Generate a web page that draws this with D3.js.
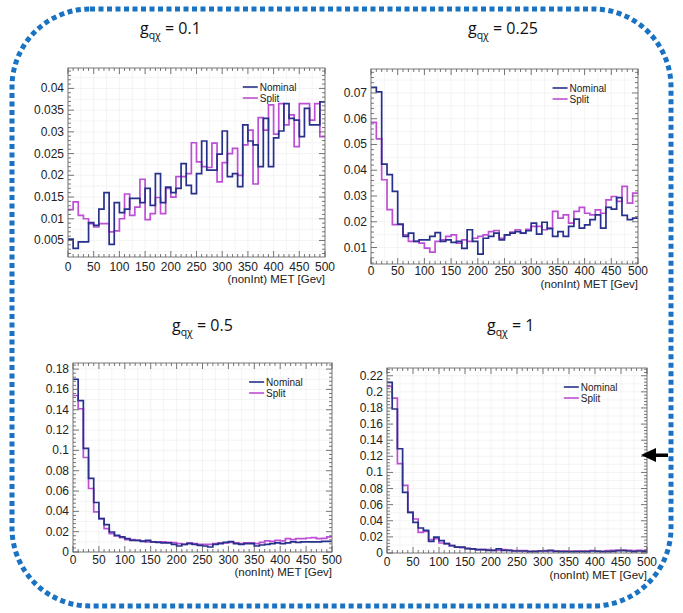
<!DOCTYPE html>
<html>
<head>
<meta charset="utf-8">
<script src="https://cdn.jsdelivr.net/npm/d3@7/dist/d3.min.js"></script>
<style>
  html, body { margin: 0; padding: 0; background: #fff; }
  svg { display: block; }
</style>
</head>
<body>
<svg id="chart" width="683" height="613"></svg>
<script>
// MET distributions (50 bins of 10 GeV, 0–500) for four coupling values
const couplings = ["0.1", "0.25", "0.5", "1"];
const seriesNames = ["Nominal", "Split"];
const xTicks = [0, 50, 100, 150, 200, 250, 300, 350, 400, 450, 500];
const xTitle = "(nonInt) MET [Gev]";

const nominal01 = [0.0053,0.0032,0.0047,0.0047,0.0091,0.0085,0.0122,0.0160,0.0041,0.0137,
  0.0114,0.0122,0.0147,0.0147,0.0137,0.0170,0.0131,0.0204,0.0137,0.0173,
  0.0160,0.0170,0.0227,0.0177,0.0158,0.0204,0.0279,0.0212,0.0212,0.0249,
  0.0302,0.0197,0.0204,0.0174,0.0316,0.0279,0.0270,0.0220,0.0331,0.0220,
  0.0286,0.0302,0.0365,0.0331,0.0327,0.0289,0.0354,0.0316,0.0316,0.0369];
const split01 = [0.0121,0.0139,0.0108,0.0100,0.0089,0.0081,0.0089,0.0089,0.0070,0.0072,
  0.0100,0.0157,0.0108,0.0127,0.0191,0.0098,0.0112,0.0149,0.0112,0.0170,
  0.0150,0.0197,0.0197,0.0204,0.0275,0.0231,0.0220,0.0218,0.0274,0.0185,
  0.0229,0.0250,0.0262,0.0200,0.0270,0.0304,0.0180,0.0333,0.0304,0.0362,
  0.0295,0.0365,0.0316,0.0339,0.0266,0.0365,0.0365,0.0327,0.0365,0.0289];

const nominal025 = [0.0722,0.0704,0.0424,0.0383,0.0318,0.0191,0.0143,0.0156,0.0124,0.0130,
  0.0130,0.0143,0.0158,0.0124,0.0130,0.0120,0.0124,0.0097,0.0169,0.0124,
  0.0074,0.0136,0.0143,0.0156,0.0130,0.0149,0.0156,0.0162,0.0156,0.0165,
  0.0195,0.0152,0.0198,0.0173,0.0143,0.0162,0.0143,0.0182,0.0210,0.0175,
  0.0188,0.0208,0.0227,0.0175,0.0256,0.0249,0.0294,0.0225,0.0208,0.0214];
const split025 = [0.0586,0.0522,0.0363,0.0247,0.0189,0.0189,0.0149,0.0124,0.0124,0.0117,
  0.0098,0.0082,0.0124,0.0130,0.0143,0.0149,0.0117,0.0130,0.0124,0.0136,
  0.0143,0.0149,0.0162,0.0166,0.0136,0.0149,0.0160,0.0169,0.0156,0.0171,
  0.0182,0.0182,0.0169,0.0175,0.0240,0.0214,0.0227,0.0195,0.0240,0.0256,
  0.0233,0.0227,0.0246,0.0233,0.0285,0.0298,0.0279,0.0337,0.0272,0.0311];

const nominal05 = [0.170,0.149,0.102,0.0724,0.0487,0.0329,0.0270,0.0197,0.0164,0.0148,
  0.0132,0.0115,0.0115,0.0105,0.0115,0.0099,0.0095,0.0089,0.0089,0.0076,
  0.0059,0.0076,0.0082,0.0076,0.0066,0.0059,0.0049,0.0076,0.0082,0.0095,
  0.0102,0.0082,0.0076,0.0082,0.0082,0.0059,0.0069,0.0076,0.0082,0.0089,
  0.0082,0.0089,0.0099,0.0095,0.0099,0.0099,0.0099,0.0099,0.0105,0.0105];
const split05 = [0.154,0.141,0.093,0.0625,0.0395,0.0329,0.0230,0.0181,0.0158,0.0141,
  0.0122,0.0122,0.0115,0.0109,0.0099,0.0099,0.0099,0.0099,0.0095,0.0092,
  0.0082,0.0076,0.0089,0.0082,0.0076,0.0076,0.0076,0.0082,0.0089,0.0089,
  0.0095,0.0089,0.0082,0.0089,0.0089,0.0082,0.0095,0.0109,0.0105,0.0115,
  0.0109,0.0132,0.0122,0.0132,0.0132,0.0138,0.0141,0.0132,0.0135,0.0148];

const nominal1 = [0.2117,0.1787,0.1294,0.0753,0.0505,0.0380,0.0310,0.0281,0.0145,0.0198,
  0.0153,0.0116,0.0091,0.0074,0.0074,0.0054,0.0050,0.0041,0.0041,0.0033,
  0.0033,0.0050,0.0033,0.0033,0.0025,0.0025,0.0025,0.0017,0.0017,0.0025,
  0.0025,0.0033,0.0021,0.0017,0.0017,0.0017,0.0017,0.0017,0.0017,0.0025,
  0.0021,0.0017,0.0017,0.0021,0.0029,0.0029,0.0025,0.0017,0.0025,0.0021];
const split1 = [0.2068,0.1923,0.1108,0.0840,0.0505,0.0422,0.0256,0.0269,0.0165,0.0178,
  0.0124,0.0116,0.0091,0.0074,0.0066,0.0058,0.0050,0.0041,0.0041,0.0041,
  0.0033,0.0033,0.0041,0.0033,0.0029,0.0029,0.0029,0.0021,0.0025,0.0025,
  0.0029,0.0025,0.0025,0.0025,0.0025,0.0021,0.0025,0.0025,0.0025,0.0029,
  0.0025,0.0021,0.0029,0.0033,0.0033,0.0037,0.0033,0.0029,0.0033,0.0029];

const yTicks01 = [0.005, 0.01, 0.015, 0.02, 0.025, 0.03, 0.035, 0.04];
const yTicks025 = [0.01, 0.02, 0.03, 0.04, 0.05, 0.06, 0.07];
const yTicks05 = [0, 0.02, 0.04, 0.06, 0.08, 0.1, 0.12, 0.14, 0.16, 0.18];
const yTicks1 = [0, 0.02, 0.04, 0.06, 0.08, 0.1, 0.12, 0.14, 0.16, 0.18, 0.2, 0.22];

const colors = { Nominal: "#27308a", Split: "#bd4fd4" };

// Pad layout: frame box, y range, tick spacing, title anchor
const panels = [
  { g: couplings[0], nominal: nominal01, split: split01, yTicks: yTicks01,
    frame: { x0: 68, x1: 325, y0: 68, y1: 257 }, yDomain: [0.0012, 0.0447], yMinor: 0.001,
    title: { x: 140, y: 34 }, xLabY: 271, xTitleY: 283 },
  { g: couplings[1], nominal: nominal025, split: split025, yTicks: yTicks025,
    frame: { x0: 371, x1: 638, y0: 69, y1: 264 }, yDomain: [0.0036, 0.0793], yMinor: 0.002,
    title: { x: 468, y: 34 }, xLabY: 275, xTitleY: 288 },
  { g: couplings[2], nominal: nominal05, split: split05, yTicks: yTicks05,
    frame: { x0: 73, x1: 332, y0: 363, y1: 552 }, yDomain: [0, 0.186], yMinor: 0.004,
    title: { x: 172, y: 331 }, xLabY: 564, xTitleY: 576 },
  { g: couplings[3], nominal: nominal1, split: split1, yTicks: yTicks1,
    frame: { x0: 387, x1: 647, y0: 368, y1: 553 }, yDomain: [0, 0.2296], yMinor: 0.004,
    title: { x: 487, y: 331 }, xLabY: 566, xTitleY: 579 }
];

const svg = d3.select("#chart");
const fmt = d3.format(".3~f");
const labelFont = "'Liberation Sans', Arial, sans-serif";

panels.forEach((p, pi) => {
  const f = p.frame;
  const x = d3.scaleLinear().domain([0, 500]).range([f.x0, f.x1]);
  const y = d3.scaleLinear().domain(p.yDomain).range([f.y1, f.y0]);
  const g = svg.append("g");

  // faint background grid of the pad
  const grid = g.append("g").attr("stroke", "#efefef").attr("stroke-width", 0.7);
  d3.range(0, 501, 25).forEach(v => {
    grid.append("line").attr("x1", x(v)).attr("x2", x(v)).attr("y1", f.y0).attr("y2", f.y1);
  });
  const yStep = p.yMinor * 2.5;
  d3.range(Math.ceil(p.yDomain[0] / yStep) * yStep, p.yDomain[1], yStep).forEach(v => {
    grid.append("line").attr("x1", f.x0).attr("x2", f.x1).attr("y1", y(v)).attr("y2", y(v));
  });

  // histograms drawn as steps
  const clipId = "clip" + pi;
  svg.append("clipPath").attr("id", clipId)
    .append("rect").attr("x", f.x0).attr("y", f.y0)
    .attr("width", f.x1 - f.x0).attr("height", f.y1 - f.y0);

  const step = d3.line().x(d => x(d[0])).y(d => y(d[1])).curve(d3.curveStepAfter);
  [["Split", p.split], ["Nominal", p.nominal]].forEach(([name, vals]) => {
    const pts = vals.map((v, i) => [i * 10, v]);
    pts.push([500, vals[vals.length - 1]]);
    g.append("path").attr("d", step(pts))
      .attr("clip-path", `url(#${clipId})`)
      .attr("fill", "none").attr("stroke", colors[name]).attr("stroke-width", 1.7);
  });

  // frame
  g.append("rect").attr("x", f.x0).attr("y", f.y0)
    .attr("width", f.x1 - f.x0).attr("height", f.y1 - f.y0)
    .attr("fill", "none").attr("stroke", "#7a7a7a").attr("stroke-width", 1);

  // ticks on all four sides
  const tk = g.append("g").attr("stroke", "#555").attr("stroke-width", 0.8);
  d3.range(0, 501, 10).forEach(v => {
    const len = v % 50 === 0 ? 6 : 3;
    tk.append("line").attr("x1", x(v)).attr("x2", x(v)).attr("y1", f.y1).attr("y2", f.y1 - len);
    tk.append("line").attr("x1", x(v)).attr("x2", x(v)).attr("y1", f.y0).attr("y2", f.y0 + len);
  });
  const major = p.yTicks[1] - p.yTicks[0];
  const start = Math.ceil(p.yDomain[0] / p.yMinor - 1e-6);
  for (let k = start; k * p.yMinor <= p.yDomain[1] + 1e-9; k++) {
    const v = k * p.yMinor;
    const isMajor = Math.abs(v / major - Math.round(v / major)) < 1e-6;
    const len = isMajor ? 6 : 3;
    tk.append("line").attr("x1", f.x0).attr("x2", f.x0 + len).attr("y1", y(v)).attr("y2", y(v));
    tk.append("line").attr("x1", f.x1).attr("x2", f.x1 - len).attr("y1", y(v)).attr("y2", y(v));
  }

  // tick labels
  const lab = g.append("g").attr("font-family", labelFont).attr("font-size", 12).attr("fill", "#222");
  xTicks.forEach(v => {
    lab.append("text").attr("x", x(v)).attr("y", p.xLabY).attr("text-anchor", "middle").text(v);
  });
  p.yTicks.forEach(v => {
    lab.append("text").attr("x", f.x0 - 4).attr("y", y(v) + 4).attr("text-anchor", "end").text(fmt(v));
  });
  lab.append("text").attr("x", f.x1).attr("y", p.xTitleY).attr("text-anchor", "end")
    .attr("font-size", 11.5).text(xTitle);

  // legend
  const lx = f.x0 + (f.x1 - f.x0) * 0.68;
  const ly = f.y0 + 19;
  seriesNames.forEach((name, i) => {
    const yy = ly + i * 11;
    g.append("line").attr("x1", lx).attr("x2", lx + 15).attr("y1", yy).attr("y2", yy)
      .attr("stroke", colors[name]).attr("stroke-width", 1.6);
    g.append("text").attr("x", lx + 17).attr("y", yy + 3.5)
      .attr("font-family", labelFont).attr("font-size", 10).attr("fill", "#222").text(name);
  });

  // pad title: g_{qχ} = value
  const t = svg.append("text").attr("x", p.title.x).attr("y", p.title.y)
    .attr("font-family", "'Open Sans', 'Noto Sans', sans-serif").attr("font-size", 16).attr("fill", "#111");
  t.append("tspan").text("g");
  t.append("tspan").attr("dy", 5).attr("font-size", 10.5).text("qχ");
  t.append("tspan").attr("dy", -5).text(" = " + p.g);
});

// dotted rounded border around all pads
svg.append("rect").attr("x", 12).attr("y", 9).attr("width", 659).attr("height", 597)
  .attr("rx", 78).attr("ry", 78)
  .attr("fill", "none").attr("stroke", "#1a72c2").attr("stroke-width", 5)
  .attr("stroke-dasharray", "5 3.5");

// pointer arrow on the right edge
const arrow = svg.append("g").attr("fill", "#000");
arrow.append("path").attr("d", d3.line()([[641, 455], [656, 448], [656, 462]])).attr("fill", "#000");
arrow.append("rect").attr("x", 655).attr("y", 453.5).attr("width", 13).attr("height", 3.5);
</script>
</body>
</html>
